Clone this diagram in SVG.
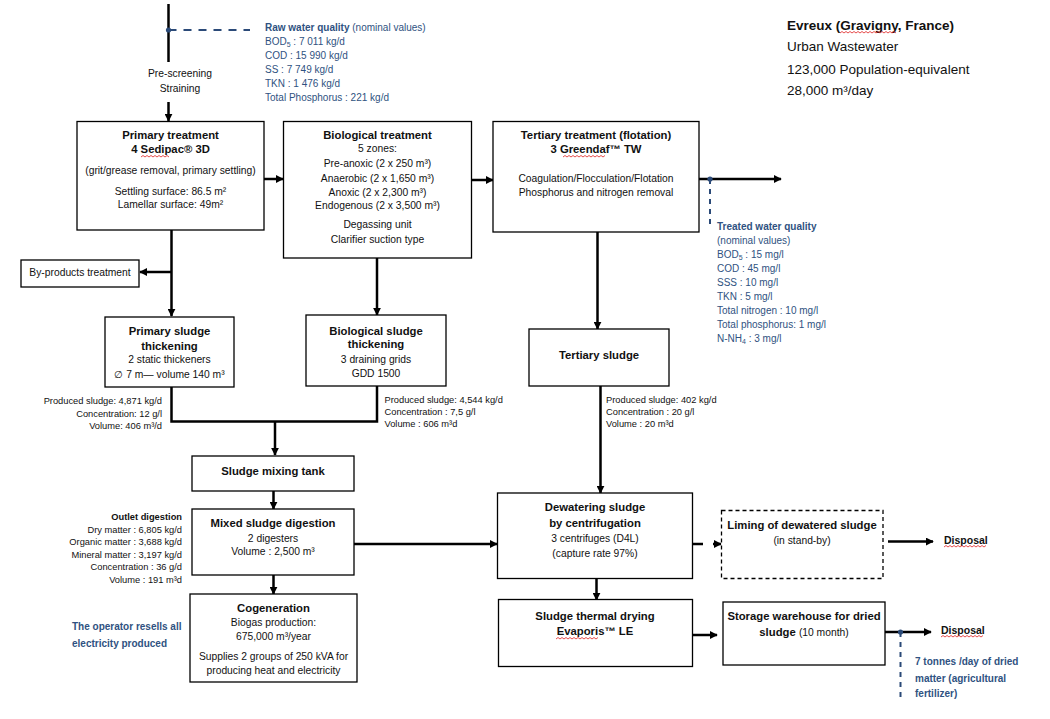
<svg xmlns="http://www.w3.org/2000/svg" width="1050" height="719" viewBox="0 0 1050 719">
<style>
text{font-family:"Liberation Sans",Arial,sans-serif;fill:#111}
.t{font-size:11.3px;font-weight:bold;text-anchor:middle}
.r{font-size:10.3px;text-anchor:middle}
.d{font-size:9.3px}
.e{text-anchor:end}
.q{font-size:10px;fill:#2F5281}
.qb{font-weight:bold}
.h{font-size:13.5px}
.box{fill:#fff;stroke:#000;stroke-width:1.3}
.dash{stroke-dasharray:4,3}
.c{fill:none;stroke:#000;stroke-width:2.5}
.bl{fill:none;stroke:#2B4A78;stroke-width:2}
.sq{fill:none;stroke:#E02020;stroke-width:0.8}
</style>
<defs>
<marker id="ah" viewBox="0 0 10 10" refX="9" refY="5" markerUnits="userSpaceOnUse" markerWidth="8" markerHeight="8" orient="auto"><path d="M0,0 L10,5 L0,10 z" fill="#000"/></marker>
</defs>
<rect width="1050" height="719" fill="#fff"/>

<g id="title">
<text class="h" x="787" y="30" font-weight="bold">Evreux (Gravigny, France)</text>
<text class="h" x="787" y="51">Urban Wastewater</text>
<text class="h" x="787" y="74">123,000 Population-equivalent</text>
<text class="h" x="787" y="95">28,000 m³/day</text>
<path class="sq" d="M840,33 l2,-1.5 l2,1.5 l2,-1.5 l2,1.5 l2,-1.5 l2,1.5 l2,-1.5 l2,1.5 l2,-1.5 l2,1.5 l2,-1.5 l2,1.5 l2,-1.5 l2,1.5 l2,-1.5 l2,1.5 l2,-1.5 l2,1.5 l2,-1.5 l2,1.5 l2,-1.5 l2,1.5 l2,-1.5 l2,1.5 l2,-1.5 l2,1.5 l2,-1.5 l2,1.5"/>
</g>

<g id="raw-water">
<text class="q" x="265" y="31"><tspan class="qb">Raw water quality</tspan> (nominal values)</text>
<text class="q" x="265" y="45">BOD<tspan font-size="7" dy="2">5</tspan><tspan dy="-2"> : 7 011 kg/d</tspan></text>
<text class="q" x="265" y="59">COD : 15 990 kg/d</text>
<text class="q" x="265" y="73">SS : 7 749 kg/d</text>
<text class="q" x="265" y="87">TKN : 1 476 kg/d</text>
<text class="q" x="265" y="101">Total Phosphorus : 221 kg/d</text>
</g>

<g id="pre-screening">
<text class="r" x="180" y="77">Pre-screening</text>
<text class="r" x="180" y="92">Straining</text>
</g>

<g id="connectors">
<path class="c" d="M168.5,4 V62"/>
<path class="c" d="M168.5,102 V121" marker-end="url(#ah)"/>
<path class="bl" d="M168.5,30 H250" stroke-dasharray="8,7"/>
<circle cx="168.5" cy="30" r="2.6" fill="#2B4A78"/>
<path class="c" d="M264,179 H283" marker-end="url(#ah)"/>
<path class="c" d="M472,180 H493" marker-end="url(#ah)"/>
<path class="c" d="M699,179 H781" marker-end="url(#ah)"/>
<path class="bl" d="M710,179 V228" stroke-width="1.6" stroke-dasharray="5,5"/>
<circle cx="710" cy="179" r="2.6" fill="#2B4A78"/>
<path class="c" d="M171.5,230 V316" marker-end="url(#ah)"/>
<path class="c" d="M171.5,272 H140" marker-end="url(#ah)"/>
<path class="c" d="M377,258 V315" marker-end="url(#ah)"/>
<path class="c" d="M597.5,232 V329" marker-end="url(#ah)"/>
<path class="c" d="M171.5,387 V421.5 H377 V386"/>
<path class="c" d="M275,421.5 V455" marker-end="url(#ah)"/>
<path class="c" d="M600.5,386 V493" marker-end="url(#ah)"/>
<path class="c" d="M273.5,491 V509" marker-end="url(#ah)"/>
<path class="c" d="M273.5,575 V594" marker-end="url(#ah)"/>
<path class="c" d="M354,544 H497" marker-end="url(#ah)"/>
<path class="c" d="M693,544 H721" stroke-dasharray="10,10" marker-end="url(#ah)"/>
<path class="c" d="M888,541.5 H933" marker-end="url(#ah)"/>
<path class="c" d="M596.5,578 V600" marker-end="url(#ah)"/>
<path class="c" d="M693,635 H717" marker-end="url(#ah)"/>
<path class="c" d="M885,632 H931" marker-end="url(#ah)"/>
<path class="bl" d="M900.5,632 V700" stroke-width="1.6" stroke-dasharray="5,5"/>
<circle cx="900.5" cy="632" r="2.6" fill="#2B4A78"/>
</g>

<g id="primary-treatment">
<rect class="box" x="77" y="121.5" width="187" height="108.5"/>
<text class="t" x="170.5" y="139">Primary treatment</text>
<text class="t" x="170.5" y="153">4 Sedipac® 3D</text>
<path class="sq" d="M141,157 l2,-1.5 l2,1.5 l2,-1.5 l2,1.5 l2,-1.5 l2,1.5 l2,-1.5 l2,1.5 l2,-1.5 l2,1.5 l2,-1.5 l2,1.5 l2,-1.5 l2,1.5"/>
<text class="r" x="170.5" y="174">(grit/grease removal, primary settling)</text>
<text class="r" x="170.5" y="195">Settling surface: 86.5 m²</text>
<text class="r" x="170.5" y="208">Lamellar surface: 49m²</text>
</g>

<g id="biological-treatment">
<rect class="box" x="283.5" y="121.5" width="188" height="136.5"/>
<text class="t" x="377.5" y="139">Biological treatment</text>
<text class="r" x="377.5" y="152">5 zones:</text>
<text class="r" x="377.5" y="166.5">Pre-anoxic (2 x 250 m³)</text>
<text class="r" x="377.5" y="181.5">Anaerobic (2 x 1,650 m³)</text>
<text class="r" x="377.5" y="196">Anoxic (2 x 2,300 m³)</text>
<text class="r" x="377.5" y="209">Endogenous (2 x 3,500 m³)</text>
<text class="r" x="377.5" y="228">Degassing unit</text>
<text class="r" x="377.5" y="243">Clarifier suction type</text>
</g>

<g id="tertiary-treatment">
<rect class="box" x="493" y="121.5" width="206" height="110.5"/>
<text class="t" x="596" y="139">Tertiary treatment (flotation)</text>
<text class="t" x="596" y="153">3 Greendaf™ TW</text>
<path class="sq" d="M563,157 l2,-1.5 l2,1.5 l2,-1.5 l2,1.5 l2,-1.5 l2,1.5 l2,-1.5 l2,1.5 l2,-1.5 l2,1.5 l2,-1.5 l2,1.5 l2,-1.5 l2,1.5 l2,-1.5 l2,1.5 l2,-1.5 l2,1.5 l2,-1.5 l2,1.5 l2,-1.5"/>
<text class="r" x="596" y="182">Coagulation/Flocculation/Flotation</text>
<text class="r" x="596" y="196">Phosphorus and nitrogen removal</text>
</g>

<g id="treated-water">
<text class="q qb" x="717" y="230">Treated water quality</text>
<text class="q" x="717" y="244">(nominal values)</text>
<text class="q" x="717" y="258">BOD<tspan font-size="7" dy="2">5</tspan><tspan dy="-2"> : 15 mg/l</tspan></text>
<text class="q" x="717" y="272">COD : 45 mg/l</text>
<text class="q" x="717" y="286">SSS : 10 mg/l</text>
<text class="q" x="717" y="300">TKN : 5 mg/l</text>
<text class="q" x="717" y="314">Total nitrogen : 10 mg/l</text>
<text class="q" x="717" y="328">Total phosphorus: 1 mg/l</text>
<text class="q" x="717" y="342">N-NH<tspan font-size="7" dy="2">4</tspan><tspan dy="-2"> : 3 mg/l</tspan></text>
</g>

<g id="by-products">
<rect class="box" x="21" y="260" width="118" height="27"/>
<text class="r" x="80" y="275.5">By-products treatment</text>
</g>

<g id="primary-sludge">
<rect class="box" x="105" y="317" width="129" height="70"/>
<text class="t" x="169.5" y="334.5">Primary sludge</text>
<text class="t" x="169.5" y="349.5">thickening</text>
<text class="r" x="169.5" y="363">2 static thickeners</text>
<text class="r" x="169.5" y="378">∅ 7 m— volume 140 m³</text>
</g>
<g id="primary-sludge-data">
<text class="d e" x="162" y="404">Produced sludge: 4,871 kg/d</text>
<text class="d e" x="162" y="416.5">Concentration:  12 g/l</text>
<text class="d e" x="162" y="429">Volume: 406 m³/d</text>
</g>

<g id="biological-sludge">
<rect class="box" x="306" y="315" width="140" height="71"/>
<text class="t" x="376" y="334.5">Biological sludge</text>
<text class="t" x="376" y="348">thickening</text>
<text class="r" x="376" y="363">3 draining grids</text>
<text class="r" x="376" y="377">GDD 1500</text>
</g>
<g id="biological-sludge-data">
<text class="d" x="384.5" y="402.5">Produced sludge: 4,544 kg/d</text>
<text class="d" x="384.5" y="414.5">Concentration : 7,5 g/l</text>
<text class="d" x="384.5" y="426.5">Volume :  606 m³d</text>
</g>

<g id="tertiary-sludge">
<rect class="box" x="529" y="329" width="140" height="57"/>
<text class="t" x="599" y="359">Tertiary sludge</text>
</g>
<g id="tertiary-sludge-data">
<text class="d" x="606" y="402.5">Produced sludge:  402 kg/d</text>
<text class="d" x="606" y="414.5">Concentration : 20 g/l</text>
<text class="d" x="606" y="426.5">Volume :  20 m³d</text>
</g>

<g id="mixing-tank">
<rect class="box" x="192" y="456" width="162" height="35"/>
<text class="t" x="273" y="474.5">Sludge mixing tank</text>
</g>

<g id="digestion">
<rect class="box" x="192" y="509" width="162" height="66"/>
<text class="t" x="273" y="527">Mixed sludge digestion</text>
<text class="r" x="273" y="541.5">2 digesters</text>
<text class="r" x="273" y="555">Volume : 2,500 m³</text>
</g>
<g id="outlet-digestion">
<text class="d e" x="182" y="520" font-weight="bold">Outlet digestion</text>
<text class="d e" x="182" y="533">Dry matter : 6,805 kg/d</text>
<text class="d e" x="182" y="545">Organic matter : 3,688 kg/d</text>
<text class="d e" x="182" y="557.5">Mineral matter : 3,197 kg/d</text>
<text class="d e" x="182" y="570">Concentration : 36 g/d</text>
<text class="d e" x="182" y="583">Volume :  191 m³d</text>
</g>

<g id="cogeneration">
<rect class="box" x="190" y="594" width="167" height="88"/>
<text class="t" x="273.5" y="611.5">Cogeneration</text>
<text class="r" x="273.5" y="626">Biogas production:</text>
<text class="r" x="273.5" y="640">675,000 m³/year</text>
<text class="r" x="273.5" y="660">Supplies 2 groups of 250 kVA for</text>
<text class="r" x="273.5" y="674">producing heat and electricity</text>
</g>
<g id="operator-note">
<text class="q qb" x="72" y="629.5">The operator resells all</text>
<text class="q qb" x="72" y="647">electricity produced</text>
</g>

<g id="dewatering">
<rect class="box" x="497.5" y="493" width="195" height="85.5"/>
<text class="t" x="595" y="511">Dewatering sludge</text>
<text class="t" x="595" y="527">by centrifugation</text>
<text class="r" x="595" y="541.5">3 centrifuges (D4L)</text>
<text class="r" x="595" y="556.5">(capture rate 97%)</text>
</g>

<g id="liming">
<rect class="box dash" x="721.5" y="510.5" width="161.5" height="68"/>
<text class="t" x="802" y="528.5">Liming of dewatered sludge</text>
<text class="r" x="802" y="543.5">(in stand-by)</text>
</g>

<g id="disposal-1">
<text x="944" y="544" font-size="10.5" font-weight="bold">Disposal</text>
<path class="sq" d="M944,547 l2,-1.5 l2,1.5 l2,-1.5 l2,1.5 l2,-1.5 l2,1.5 l2,-1.5 l2,1.5 l2,-1.5 l2,1.5 l2,-1.5 l2,1.5 l2,-1.5 l2,1.5 l2,-1.5 l2,1.5 l2,-1.5 l2,1.5 l2,-1.5 l2,1.5 l2,-1.5"/>
</g>

<g id="drying">
<rect class="box" x="498.5" y="599.5" width="194" height="67"/>
<text class="t" x="595" y="620">Sludge thermal drying</text>
<text class="t" x="595" y="635">Evaporis™  LE</text>
<path class="sq" d="M556,639 l2,-1.5 l2,1.5 l2,-1.5 l2,1.5 l2,-1.5 l2,1.5 l2,-1.5 l2,1.5 l2,-1.5 l2,1.5 l2,-1.5 l2,1.5 l2,-1.5 l2,1.5 l2,-1.5 l2,1.5 l2,-1.5 l2,1.5 l2,-1.5 l2,1.5 l2,-1.5"/>
</g>

<g id="storage">
<rect class="box" x="723" y="602" width="162" height="63"/>
<text class="t" x="804" y="620">Storage warehouse for dried</text>
<text class="t" x="804" y="635.5">sludge <tspan font-weight="normal" font-size="10.3">(10 month)</tspan></text>
</g>

<g id="disposal-2">
<text x="941" y="634" font-size="10.5" font-weight="bold">Disposal</text>
<path class="sq" d="M941,637 l2,-1.5 l2,1.5 l2,-1.5 l2,1.5 l2,-1.5 l2,1.5 l2,-1.5 l2,1.5 l2,-1.5 l2,1.5 l2,-1.5 l2,1.5 l2,-1.5 l2,1.5 l2,-1.5 l2,1.5 l2,-1.5 l2,1.5 l2,-1.5 l2,1.5 l2,-1.5"/>
</g>

<g id="dried-matter-note">
<text class="q qb" x="915" y="664.5">7 tonnes /day of dried</text>
<text class="q qb" x="915" y="682">matter (agricultural</text>
<text class="q qb" x="915" y="697">fertilizer)</text>
</g>
</svg>
